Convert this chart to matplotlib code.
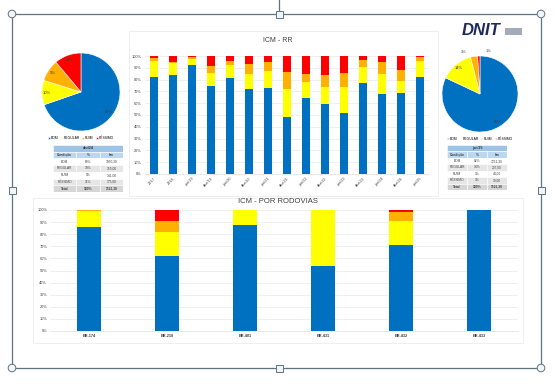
import numpy as np
import matplotlib.pyplot as plt
from matplotlib.patches import Rectangle, Circle

W, H = 554, 385

cores = ['#0070C0', '#FFFF00', '#FFB000', '#FF0000']
condicoes = ['BOM', 'REGULAR', 'RUIM', 'PÉSSIMO']

# ICM - RR (historico)
periodos = ['2017', '2018', 'jun/19', 'dez/19', 'jun/20', 'dez/20', 'jun/21', 'dez/21',
            'jun/22', 'dez/22', 'jun/23', 'dez/23', 'jun/24', 'dez/24', 'jun/25']
rr_bom = [82, 84, 92, 75, 81, 72, 73, 48, 64, 59, 52, 77, 68, 69, 82]
rr_regular = [14, 10, 5.5, 11, 11, 13, 14, 24, 14, 14.5, 22, 14, 17, 10, 14]
rr_ruim = [2.5, 1, 1.5, 5.5, 4, 8, 8, 14.5, 7, 10.5, 12, 6, 10, 9, 3]
rr_pessimo = [1.5, 5, 1, 8.5, 4, 7, 5, 13.5, 15, 16, 14, 3, 5, 12, 1]

# ICM - por rodovias
rodovias = ['BR-174', 'BR-210', 'BR-401', 'BR-431', 'BR-432', 'BR-433']
rod_bom = [86, 62, 88, 54, 71, 100]
rod_regular = [13, 20, 12, 46, 20, 0]
rod_ruim = [1, 9, 0, 0, 7.5, 0]
rod_pessimo = [0, 9, 0, 0, 1.5, 0]

# pizzas + tabelas
pct_dez24 = [69, 10, 9, 11]
km_dez24 = ['1050,30', '155,00', '141,00', '175,00']
pct_jun25 = [82, 14, 3, 1]
km_jun25 = ['1251,30', '207,00', '44,00', '19,00']
km_total = '1521,30'

plt.rcParams['font.family'] = ['Liberation Sans', 'DejaVu Sans']

fig = plt.figure(figsize=(W / 100, H / 100), dpi=100)
fig.patch.set_facecolor('white')


def px_axes(x0, y0, x1, y1, **kw):
    return fig.add_axes([x0 / W, 1 - y1 / H, (x1 - x0) / W, (y1 - y0) / H], **kw)


# fundo: moldura do slide e alcas de selecao
bg = px_axes(0, 0, W, H)
bg.set_xlim(0, W)
bg.set_ylim(H, 0)
bg.axis('off')
frame_c = '#5f7380'
bg.plot([12, 541, 541, 12, 12], [14, 14, 368, 368, 14], color=frame_c, lw=0.9)
bg.plot([279, 279], [0, 10], color=frame_c, lw=0.9)
for cx, cy in [(12, 14), (541, 14), (12, 368), (541, 368)]:
    bg.add_patch(Circle((cx, cy), 3.8, facecolor='#f2f6f8', edgecolor=frame_c, lw=0.7, zorder=3))
for cx, cy in [(279, 14), (279, 368), (12, 190), (541, 190)]:
    bg.add_patch(Rectangle((cx - 3.5, cy - 3.5), 7, 7, facecolor='#eef4f7', edgecolor=frame_c, lw=0.7, zorder=3))
# molduras dos graficos
bg.add_patch(Rectangle((129, 31), 309, 165, fill=False, edgecolor='#ececec', lw=0.6))
bg.add_patch(Rectangle((33, 198), 490, 145, fill=False, edgecolor='#ececec', lw=0.6))
# logo
bg.text(462, 35, 'DNIT', fontsize=12, fontweight='bold', fontstyle='italic',
        color='#1f2a5c', ha='left', va='baseline')
bg.add_patch(Rectangle((505, 28), 17, 7, facecolor='#a3aab8', edgecolor='none'))


def stacked(ax, labels, series, width):
    x = np.arange(len(labels))
    bottom = np.zeros(len(labels))
    for vals, c in zip(series, cores):
        ax.bar(x, vals, width, bottom=bottom, color=c, zorder=2)
        bottom += np.array(vals)
    ax.set_ylim(0, 100)
    ax.set_yticks(range(0, 101, 10))
    ax.set_yticklabels([f'{v}%' for v in range(0, 101, 10)])
    ax.set_xticks(x)
    ax.grid(axis='y', color='#e3e3e3', lw=0.4, zorder=0)
    for s in ax.spines.values():
        s.set_visible(False)
    ax.spines['bottom'].set_visible(True)
    ax.spines['bottom'].set_color('#d9d9d9')
    ax.spines['bottom'].set_linewidth(0.4)
    ax.tick_params(length=0, pad=2, labelsize=2.8, colors='#404040')
    ax.set_xlim(-0.5, len(labels) - 0.5)
    return x


# ICM - RR
ax1 = px_axes(144.5, 56, 429.5, 174)
stacked(ax1, periodos, [rr_bom, rr_regular, rr_ruim, rr_pessimo], 0.4)
ax1.set_xticklabels(periodos, rotation=45, ha='right', rotation_mode='anchor')
fig.text(278 / W, 1 - 40 / H, 'ICM - RR', ha='center', va='center', fontsize=5, color='#404040')

# ICM - por rodovias
ax2 = px_axes(50, 210, 518, 331)
stacked(ax2, rodovias, [rod_bom, rod_regular, rod_ruim, rod_pessimo], 0.3)
ax2.set_xticklabels(rodovias, fontweight='bold')
fig.text(278 / W, 1 - 202 / H, 'ICM - POR RODOVIAS', ha='center', va='center', fontsize=5.5, color='#404040')


def pizza(cx, cy, r, vals, outside_small=False):
    ax = px_axes(cx - r, cy - r, cx + r, cy + r)
    wedges, _ = ax.pie(vals, colors=cores, startangle=90, counterclock=False,
                       wedgeprops=dict(edgecolor='white', linewidth=0.4))
    ax.set_xlim(-1, 1)
    ax.set_ylim(-1, 1)
    ax.set_aspect('equal')
    for w, v in zip(wedges, vals):
        ang = np.deg2rad((w.theta1 + w.theta2) / 2)
        if outside_small and v < 5:
            ha = 'right' if np.cos(ang) < -0.05 else 'left'
            dx = -0.15 if ha == 'right' else 0.2
            ax.text(1.2 * np.cos(ang) + dx, 1.12 * np.sin(ang), f'{v}%', ha=ha, va='center',
                    fontsize=3, color='#404040', clip_on=False)
        else:
            ax.text(0.88 * np.cos(ang), 0.88 * np.sin(ang), f'{v}%', ha='center', va='center',
                    fontsize=3, color='#404040')
    ax.legend(wedges, condicoes, loc='upper center', bbox_to_anchor=(0.5, -0.04), ncol=4,
              fontsize=2.4, frameon=False, handlelength=0.5, handleheight=0.5,
              columnspacing=0.8, handletextpad=0.3, borderpad=0)
    return ax


def tabela(x0, y0, x1, y1, titulo, pcts, kms):
    ax = px_axes(x0, y0, x1, y1)
    ax.set_xlim(0, 3)
    ax.set_ylim(7, 0)
    ax.axis('off')
    linhas = [['Condição', '%', 'km']]
    for c, p, k in zip(condicoes, pcts, kms):
        linhas.append([c, f'{p}%', k])
    linhas.append(['Total', '100%', km_total])
    fundos = ['#bdd7ee', '#ffffff', '#e7e6e6', '#ffffff', '#e7e6e6', '#d6d6d6']
    ax.add_patch(Rectangle((0, 0), 3, 1, facecolor='#9dc3e6', edgecolor='white', lw=0.4))
    ax.text(1.5, 0.5, titulo, ha='center', va='center', fontsize=2.5, color='#303030', fontweight='bold')
    for i, (row, fc) in enumerate(zip(linhas, fundos)):
        for j, txt in enumerate(row):
            ax.add_patch(Rectangle((j, i + 1), 1, 1, facecolor=fc, edgecolor='white', lw=0.4))
            ax.text(j + 0.5, i + 1.5, txt, ha='center', va='center', fontsize=2.3,
                    color='#404040', fontweight='bold' if i in (0, 5) else 'normal')


pizza(81, 92, 39, pct_dez24)
tabela(53, 145, 123, 192, 'dez/24', pct_dez24, km_dez24)
pizza(480, 94, 38, pct_jun25, outside_small=True)
tabela(447, 145, 507, 190, 'jun/25', pct_jun25, km_jun25)

fig.savefig('out.png', dpi=100)
